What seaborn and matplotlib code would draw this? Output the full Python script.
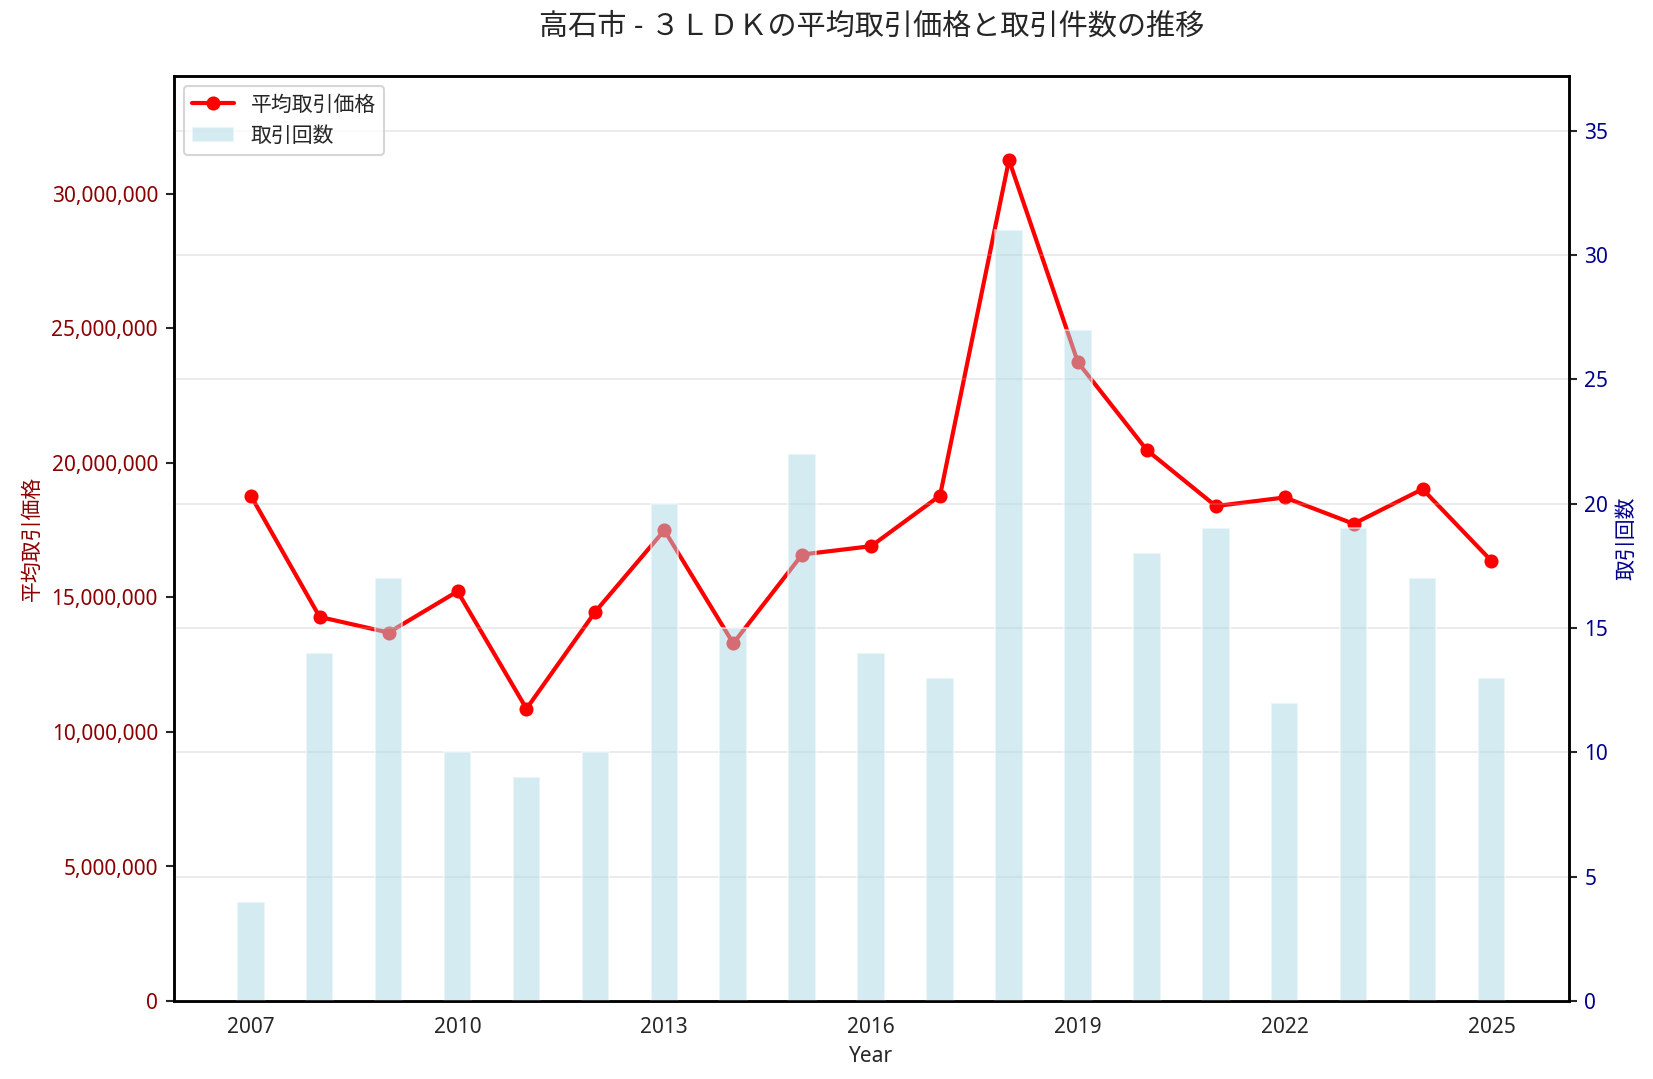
import matplotlib
matplotlib.use('Agg')
import matplotlib.pyplot as plt
import seaborn as sns
import numpy as np
from matplotlib.ticker import FuncFormatter

# data
years = [2007, 2008, 2009, 2010, 2011, 2012, 2013, 2014, 2015, 2016,
         2017, 2018, 2019, 2020, 2021, 2022, 2023, 2024, 2025]
avg_price = [18780000, 14270000, 13690000, 15220000, 10860000, 14470000,
             17490000, 13290000, 16590000, 16900000, 18780000, 31250000,
             23730000, 20470000, 18390000, 18710000, 17730000, 19020000,
             16350000]
trade_count = [4, 14, 17, 10, 9, 10, 20, 15, 22, 14,
               13, 31, 27, 18, 19, 12, 19, 17, 13]
xticks = [2007, 2010, 2013, 2016, 2019, 2022, 2025]

sns.set_style('white')
plt.rcParams['font.family'] = ['Noto Sans', 'Noto Sans CJK JP', 'DejaVu Sans']
plt.rcParams['axes.unicode_minus'] = False

fig, ax1 = plt.subplots(figsize=(11.02, 7.194), dpi=150)
fig.subplots_adjust(left=0.105, right=0.949, top=0.9296, bottom=0.0723)

# line: average price (left axis)
sns.lineplot(x=years, y=avg_price, ax=ax1, color='red', linewidth=2,
             marker='o', markersize=6, markeredgecolor='red', label='平均取引価格',
             legend=False)
ax1.set_ylim(0, max(avg_price) * 1.1)
ax1.set_xlabel('Year', fontsize=10)
ax1.set_ylabel('平均取引価格', color='darkred', fontsize=10)
ax1.tick_params(axis='y', labelcolor='darkred')
ax1.yaxis.set_major_formatter(FuncFormatter(lambda v, p: f'{int(v):,}'))

# bars: number of trades (right axis)
ax2 = ax1.twinx()
sns.barplot(x=years, y=trade_count, ax=ax2, native_scale=True, width=0.4,
            color='lightblue', alpha=0.5, saturation=1, label='取引回数')
ax2.set_ylim(0, max(trade_count) * 1.2)
ax2.set_ylabel('取引回数', color='darkblue', fontsize=10)
ax2.tick_params(axis='y', labelcolor='darkblue')
ax2.grid(True, axis='y', color='#b0b0b0', alpha=0.3)
ax2.set_xlim(2005.88, 2026.12)
ax2.set_xticks(xticks)
ax2.set_xticklabels([str(y) for y in xticks])

for ax in (ax1, ax2):
    ax.tick_params(axis='both', length=4, width=1, labelsize=10)
    for s in ax.spines.values():
        s.set_color('black')
        s.set_linewidth(1.2)

h1, l1 = ax1.get_legend_handles_labels()
h2, l2 = ax2.get_legend_handles_labels()
ax2.legend(h1 + h2, l1 + l2, loc='upper left', fontsize=10)

ax1.set_title('高石市 - ３ＬＤＫの平均取引価格と取引件数の推移', fontsize=14, pad=20)

fig.savefig('out.png', dpi=150)
